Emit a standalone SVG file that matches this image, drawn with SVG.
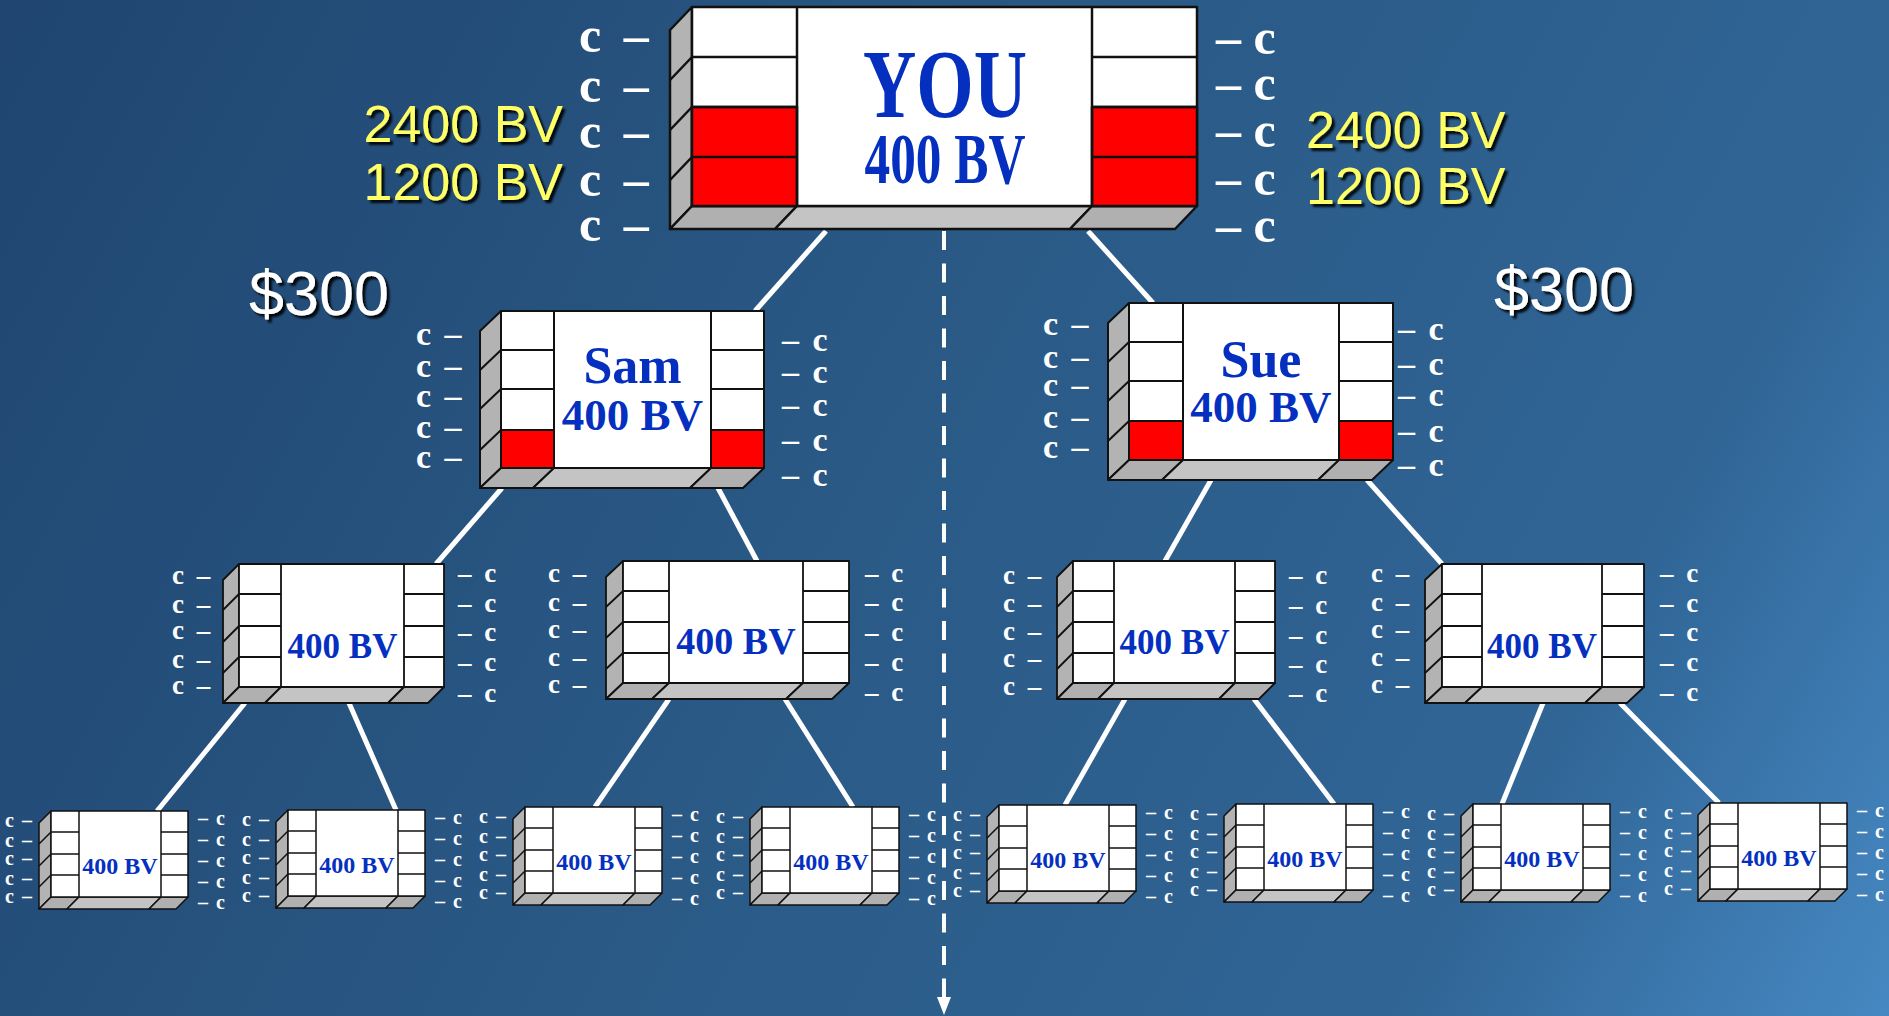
<svg xmlns="http://www.w3.org/2000/svg" xmlns:xlink="http://www.w3.org/1999/xlink" width="1889" height="1016" viewBox="0 0 1889 1016">
<defs>
<linearGradient id="bg" gradientUnits="userSpaceOnUse" x1="0" y1="0" x2="1889" y2="1016">
<stop offset="0" stop-color="#1f4570"/>
<stop offset="0.45" stop-color="#2a5985"/>
<stop offset="0.8" stop-color="#306596"/>
<stop offset="1" stop-color="#4688c2"/>
</linearGradient>
<filter id="sh" x="-10%" y="-20%" width="130%" height="150%">
<feDropShadow dx="3" dy="3" stdDeviation="0.8" flood-color="#000" flood-opacity="0.9"/>
</filter>
<marker id="arr" markerUnits="userSpaceOnUse" markerWidth="18" markerHeight="14" refX="0" refY="7" orient="auto" viewBox="0 0 18 14">
<polygon points="0,0 18,7 0,14" fill="#fff"/>
</marker>
<g id="box3">
<polygon class="side s3" points="0,0 -12,12 -12,98 0,86"/>
<polygon class="bd s3" points="0,86 28,86 16,98 -12,98"/>
<polygon class="bl s3" points="28,86 110,86 98,98 16,98"/>
<polygon class="bd s3" points="110,86 137,86 125,98 98,98"/>
<rect class="face s3" x="0" y="0" width="137" height="86"/>
<path class="ln s3" d="M28,0V86M110,0V86M0,21H28M0,43H28M0,64H28M110,21H137M110,43H137M110,64H137M0,21L-12,33M0,43L-12,55M0,64L-12,76"/>
</g>
<g id="lab3l" class="c3"><text><tspan x="-46" y="16">c –</tspan><tspan x="-46" y="36">c –</tspan><tspan x="-46" y="54">c –</tspan><tspan x="-46" y="74">c –</tspan><tspan x="-46" y="92">c –</tspan></text></g>
<g id="lab3r" class="c3"><text><tspan x="147" y="14">– c</tspan><tspan x="147" y="35">– c</tspan><tspan x="147" y="56">– c</tspan><tspan x="147" y="77">– c</tspan><tspan x="147" y="98">– c</tspan></text></g>
</defs>
<style>
.side{fill:#b3b3b3}
.bd{fill:#b0b0b0}
.bl{fill:#c4c4c4}
.face{fill:#fff}
.red{fill:#ff0000}
.side,.bd,.bl,.face,.red,.ln{stroke:#111;stroke-linejoin:round}
.ln{fill:none}
.s0{stroke-width:2.5}
.s1{stroke-width:2}
.s2{stroke-width:1.8}
.s3{stroke-width:1.5}
.c0,.c1,.c2,.c3{font-family:"Liberation Serif","Times New Roman",serif;font-weight:bold;fill:#fff}
.c0{font-size:50px}
.c1{font-size:34px;word-spacing:5px}
.c2{font-size:27px;word-spacing:6px}
.c3{font-size:20px;word-spacing:3px}
.nm{font-family:"Liberation Serif","Times New Roman",serif;font-weight:bold;fill:#0530bf;text-anchor:middle}
.bv{font-family:"Liberation Sans",Arial,sans-serif;font-size:52px;fill:#ffff66;filter:url(#sh)}
.usd{font-family:"Liberation Sans",Arial,sans-serif;font-size:63px;fill:#fff;filter:url(#sh)}
.con{stroke:#fff;stroke-width:5;fill:none}
.dash{stroke:#fff;stroke-width:4;fill:none;stroke-dasharray:19 13.5}
</style>
<rect x="0" y="0" width="1889" height="1016" fill="url(#bg)"/>

<g id="connectors">
<line class="con" x1="826" y1="231" x2="755" y2="311"/>
<line class="con" x1="1088" y1="231" x2="1153" y2="303"/>
<line class="con" x1="502" y1="488" x2="436" y2="564"/>
<line class="con" x1="718" y1="488" x2="757" y2="561"/>
<line class="con" x1="1211" y1="480" x2="1165" y2="561"/>
<line class="con" x1="1367" y1="480" x2="1442" y2="564"/>
<line class="con" x1="245" y1="703" x2="157" y2="811"/>
<line class="con" x1="349" y1="703" x2="396" y2="810"/>
<line class="con" x1="669" y1="699" x2="595" y2="807"/>
<line class="con" x1="785" y1="699" x2="853" y2="807"/>
<line class="con" x1="1125" y1="699" x2="1065" y2="805"/>
<line class="con" x1="1254" y1="699" x2="1334" y2="804"/>
<line class="con" x1="1543" y1="703" x2="1502" y2="804"/>
<line class="con" x1="1620" y1="703" x2="1719" y2="803"/>
<line class="dash" x1="944" y1="231" x2="944" y2="997" marker-end="url(#arr)"/>
</g>

<g id="labels">
<text class="bv" x="563" y="142" text-anchor="end">2400 BV</text>
<text class="bv" x="563" y="200" text-anchor="end">1200 BV</text>
<text class="bv" x="1306" y="148">2400 BV</text>
<text class="bv" x="1306" y="204">1200 BV</text>
<text class="usd" x="249" y="315">$300</text>
<text class="usd" x="1494" y="311">$300</text>
</g>

<g id="node-you" transform="translate(692,7)">
<polygon class="side s0" points="0,0 -22,23 -22,222 0,199"/>
<polygon class="bd s0" points="0,199 105,199 83,222 -22,222"/>
<polygon class="bl s0" points="105,199 400,199 378,222 83,222"/>
<polygon class="bd s0" points="400,199 505,199 483,222 378,222"/>
<rect class="face s0" x="0" y="0" width="505" height="199"/>
<rect class="red s0" x="0" y="100" width="105" height="99"/>
<rect class="red s0" x="400" y="100" width="105" height="99"/>
<path class="ln s0" d="M105,0V199M400,0V199M0,50H105M0,100H105M0,150H105M400,50H505M400,100H505M400,150H505M0,50L-22,73M0,100L-22,123M0,150L-22,173"/>
<text class="nm" x="253" y="110" font-size="98" textLength="164" lengthAdjust="spacingAndGlyphs">YOU</text>
<text class="nm" x="253" y="176" font-size="72" textLength="161" lengthAdjust="spacingAndGlyphs">400 BV</text>
<text class="c0" style="word-spacing:10px"><tspan x="-113" y="45">c –</tspan><tspan x="-113" y="95">c –</tspan><tspan x="-113" y="141">c –</tspan><tspan x="-113" y="189">c –</tspan><tspan x="-113" y="234">c –</tspan></text>
<text class="c0"><tspan x="524" y="47">– c</tspan><tspan x="524" y="93">– c</tspan><tspan x="524" y="140">– c</tspan><tspan x="524" y="188">– c</tspan><tspan x="524" y="235">– c</tspan></text>
</g>

<g id="node-sam" transform="translate(501,311)">
<polygon class="side s1" points="0,0 -21,20 -21,177 0,157"/>
<polygon class="bd s1" points="0,157 53,157 32,177 -21,177"/>
<polygon class="bl s1" points="53,157 210,157 189,177 32,177"/>
<polygon class="bd s1" points="210,157 263,157 242,177 189,177"/>
<rect class="face s1" x="0" y="0" width="263" height="157"/>
<rect class="red s1" x="0" y="119" width="53" height="38"/>
<rect class="red s1" x="210" y="119" width="53" height="38"/>
<path class="ln s1" d="M53,0V157M210,0V157M0,39H53M0,78H53M0,119H53M210,39H263M210,78H263M210,119H263M0,39L-21,59M0,78L-21,98M0,119L-21,139"/>
<text class="nm" x="131.5" y="72" font-size="52">Sam</text>
<text class="nm" x="131.5" y="119" font-size="45">400 BV</text>
<text class="c1"><tspan x="-85" y="34">c –</tspan><tspan x="-85" y="66">c –</tspan><tspan x="-85" y="96">c –</tspan><tspan x="-85" y="127">c –</tspan><tspan x="-85" y="157">c –</tspan></text>
<text class="c1"><tspan x="281" y="40">– c</tspan><tspan x="281" y="72">– c</tspan><tspan x="281" y="105">– c</tspan><tspan x="281" y="140">– c</tspan><tspan x="281" y="175">– c</tspan></text>
</g>

<g id="node-sue" transform="translate(1129,303)">
<polygon class="side s1" points="0,0 -21,20 -21,177 0,157"/>
<polygon class="bd s1" points="0,157 54,157 33,177 -21,177"/>
<polygon class="bl s1" points="54,157 210,157 189,177 33,177"/>
<polygon class="bd s1" points="210,157 264,157 243,177 189,177"/>
<rect class="face s1" x="0" y="0" width="264" height="157"/>
<rect class="red s1" x="0" y="118" width="54" height="39"/>
<rect class="red s1" x="210" y="118" width="54" height="39"/>
<path class="ln s1" d="M54,0V157M210,0V157M0,39H54M0,78H54M0,118H54M210,39H264M210,78H264M210,118H264M0,39L-21,59M0,78L-21,98M0,118L-21,138"/>
<text class="nm" x="132" y="74" font-size="52">Sue</text>
<text class="nm" x="132" y="119" font-size="45">400 BV</text>
<text class="c1"><tspan x="-86" y="32">c –</tspan><tspan x="-86" y="65">c –</tspan><tspan x="-86" y="93">c –</tspan><tspan x="-86" y="125">c –</tspan><tspan x="-86" y="155">c –</tspan></text>
<text class="c1"><tspan x="269" y="37">– c</tspan><tspan x="269" y="72">– c</tspan><tspan x="269" y="103">– c</tspan><tspan x="269" y="139">– c</tspan><tspan x="269" y="173">– c</tspan></text>
</g>

<g id="node-a" transform="translate(239,564)">
<polygon class="side s2" points="0,0 -16,16 -16,139 0,123"/>
<polygon class="bd s2" points="0,123 42,123 26,139 -16,139"/>
<polygon class="bl s2" points="42,123 165,123 149,139 26,139"/>
<polygon class="bd s2" points="165,123 205,123 189,139 149,139"/>
<rect class="face s2" x="0" y="0" width="205" height="123"/>
<path class="ln s2" d="M42,0V123M165,0V123M0,30H42M0,62H42M0,93H42M165,30H205M165,62H205M165,93H205M0,30L-16,46M0,62L-16,78M0,93L-16,109"/>
<text class="nm" x="103.5" y="94" font-size="35">400 BV</text>
<text class="c2"><tspan x="-67" y="20">c –</tspan><tspan x="-67" y="49">c –</tspan><tspan x="-67" y="75">c –</tspan><tspan x="-67" y="104">c –</tspan><tspan x="-67" y="130">c –</tspan></text>
<text class="c2"><tspan x="219" y="18">– c</tspan><tspan x="219" y="48">– c</tspan><tspan x="219" y="77">– c</tspan><tspan x="219" y="107">– c</tspan><tspan x="219" y="138">– c</tspan></text>
</g>

<g id="node-b" transform="translate(623,561)">
<polygon class="side s2" points="0,0 -17,16 -17,138 0,122"/>
<polygon class="bd s2" points="0,122 46,122 29,138 -17,138"/>
<polygon class="bl s2" points="46,122 180,122 163,138 29,138"/>
<polygon class="bd s2" points="180,122 226,122 209,138 163,138"/>
<rect class="face s2" x="0" y="0" width="226" height="122"/>
<path class="ln s2" d="M46,0V122M180,0V122M0,30H46M0,61H46M0,92H46M180,30H226M180,61H226M180,92H226M0,30L-17,46M0,61L-17,77M0,92L-17,108"/>
<text class="nm" x="113" y="93" font-size="38">400 BV</text>
<text class="c2"><tspan x="-75" y="21">c –</tspan><tspan x="-75" y="50">c –</tspan><tspan x="-75" y="77">c –</tspan><tspan x="-75" y="105">c –</tspan><tspan x="-75" y="132">c –</tspan></text>
<text class="c2"><tspan x="242" y="21">– c</tspan><tspan x="242" y="50">– c</tspan><tspan x="242" y="80">– c</tspan><tspan x="242" y="110">– c</tspan><tspan x="242" y="140">– c</tspan></text>
</g>

<g id="node-c" transform="translate(1073,561)">
<polygon class="side s2" points="0,0 -16,16 -16,138 0,122"/>
<polygon class="bd s2" points="0,122 41,122 25,138 -16,138"/>
<polygon class="bl s2" points="41,122 162,122 146,138 25,138"/>
<polygon class="bd s2" points="162,122 202,122 186,138 146,138"/>
<rect class="face s2" x="0" y="0" width="202" height="122"/>
<path class="ln s2" d="M41,0V122M162,0V122M0,30H41M0,61H41M0,92H41M162,30H202M162,61H202M162,92H202M0,30L-16,46M0,61L-16,77M0,92L-16,108"/>
<text class="nm" x="101.5" y="93" font-size="35">400 BV</text>
<text class="c2"><tspan x="-70" y="23">c –</tspan><tspan x="-70" y="51">c –</tspan><tspan x="-70" y="79">c –</tspan><tspan x="-70" y="106">c –</tspan><tspan x="-70" y="134">c –</tspan></text>
<text class="c2"><tspan x="216" y="23">– c</tspan><tspan x="216" y="53">– c</tspan><tspan x="216" y="83">– c</tspan><tspan x="216" y="112">– c</tspan><tspan x="216" y="141">– c</tspan></text>
</g>

<g id="node-d" transform="translate(1442,564)">
<polygon class="side s2" points="0,0 -17,16 -17,139 0,123"/>
<polygon class="bd s2" points="0,123 40,123 23,139 -17,139"/>
<polygon class="bl s2" points="40,123 160,123 143,139 23,139"/>
<polygon class="bd s2" points="160,123 202,123 185,139 143,139"/>
<rect class="face s2" x="0" y="0" width="202" height="123"/>
<path class="ln s2" d="M40,0V123M160,0V123M0,30H40M0,62H40M0,93H40M160,30H202M160,62H202M160,93H202M0,30L-17,46M0,62L-17,78M0,93L-17,109"/>
<text class="nm" x="100" y="94" font-size="35">400 BV</text>
<text class="c2"><tspan x="-71" y="18">c –</tspan><tspan x="-71" y="47">c –</tspan><tspan x="-71" y="74">c –</tspan><tspan x="-71" y="102">c –</tspan><tspan x="-71" y="129">c –</tspan></text>
<text class="c2"><tspan x="218" y="18">– c</tspan><tspan x="218" y="48">– c</tspan><tspan x="218" y="77">– c</tspan><tspan x="218" y="107">– c</tspan><tspan x="218" y="137">– c</tspan></text>
</g>

<g id="node-l1" transform="translate(51,811)"><use xlink:href="#box3"/><text class="nm" x="69" y="63" font-size="24">400 BV</text><use xlink:href="#lab3l"/><use xlink:href="#lab3r"/></g>
<g id="node-l2" transform="translate(288,810)"><use xlink:href="#box3"/><text class="nm" x="69" y="63" font-size="24">400 BV</text><use xlink:href="#lab3l"/><use xlink:href="#lab3r"/></g>
<g id="node-l3" transform="translate(525,807)"><use xlink:href="#box3"/><text class="nm" x="69" y="63" font-size="24">400 BV</text><use xlink:href="#lab3l"/><use xlink:href="#lab3r"/></g>
<g id="node-l4" transform="translate(762,807)"><use xlink:href="#box3"/><text class="nm" x="69" y="63" font-size="24">400 BV</text><use xlink:href="#lab3l"/><use xlink:href="#lab3r"/></g>
<g id="node-l5" transform="translate(999,805)"><use xlink:href="#box3"/><text class="nm" x="69" y="63" font-size="24">400 BV</text><use xlink:href="#lab3l"/><use xlink:href="#lab3r"/></g>
<g id="node-l6" transform="translate(1236,804)"><use xlink:href="#box3"/><text class="nm" x="69" y="63" font-size="24">400 BV</text><use xlink:href="#lab3l"/><use xlink:href="#lab3r"/></g>
<g id="node-l7" transform="translate(1473,804)"><use xlink:href="#box3"/><text class="nm" x="69" y="63" font-size="24">400 BV</text><use xlink:href="#lab3l"/><use xlink:href="#lab3r"/></g>
<g id="node-l8" transform="translate(1710,803)"><use xlink:href="#box3"/><text class="nm" x="69" y="63" font-size="24">400 BV</text><use xlink:href="#lab3l"/><use xlink:href="#lab3r"/></g>
</svg>
